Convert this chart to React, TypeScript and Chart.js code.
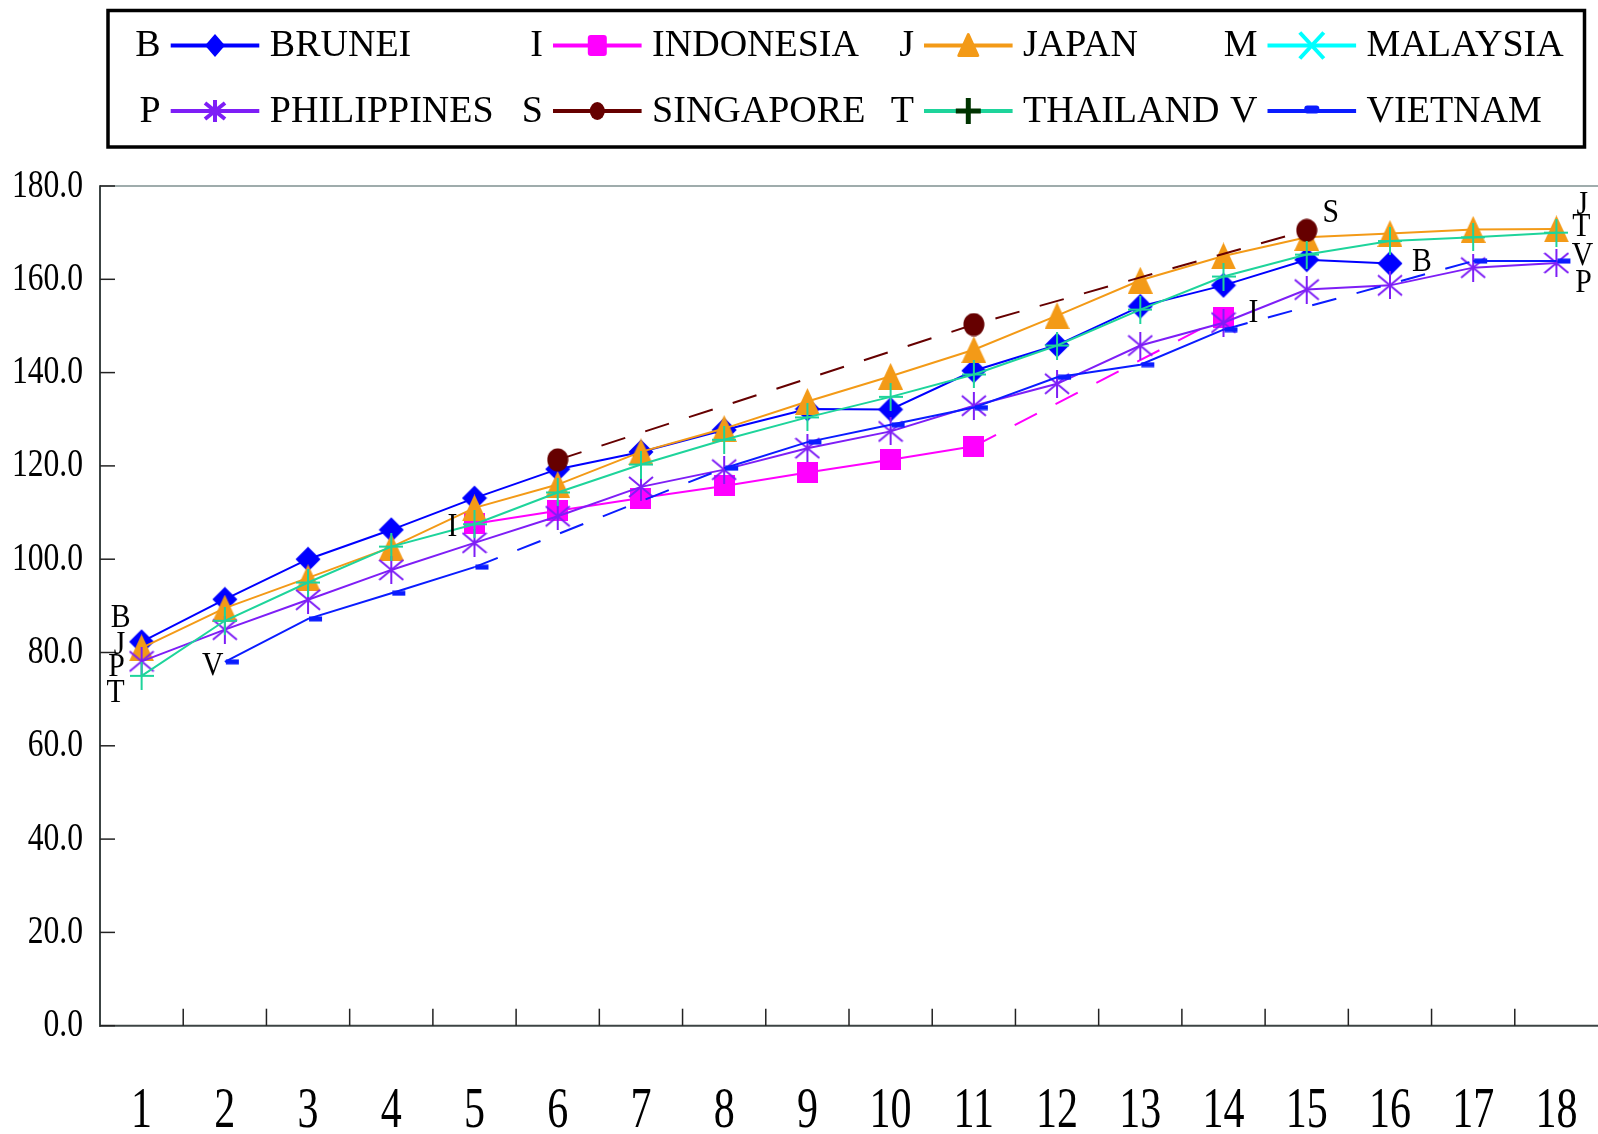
import React, { useEffect, useRef } from "react";
import { Chart, registerables } from "chart.js";

Chart.register(...registerables);

// ---------------- data ----------------
const categories = ["1", "2", "3", "4", "5", "6", "7", "8", "9", "10", "11", "12", "13", "14", "15", "16", "17", "18"];
const yTickValues = [0, 20, 40, 60, 80, 100, 120, 140, 160, 180];

const brunei = [82.3, 91.4, 100.0, 106.3, 113.1, 119.3, 123.0, 127.7, 132.2, 132.1, 140.4, 145.9, 154.2, 158.7, 164.2, 163.4, null, null];
const indonesia = [null, null, null, null, 107.6, 110.4, 113.1, 115.7, 118.6, 121.3, 124.2, null, null, 151.9, null, null, null, null];
const japan = [81.0, 89.5, 96.0, 102.6, 111.0, 116.0, 123.0, 128.0, 133.8, 139.2, 144.9, 152.2, 159.8, 165.0, 169.0, 169.8, 170.7, 170.8];
const malaysia = [null, null, null, null, null, null, null, null, null, null, null, null, null, null, null, null, null, null];
const philippines = [78.1, 84.9, 91.3, 97.7, 103.5, 109.2, 115.5, 119.2, 123.8, 127.4, 132.9, 137.6, 145.8, 150.7, 157.8, 158.7, 162.5, 163.5];
const singapore = [null, null, null, null, null, 121.3, null, null, null, null, 150.3, null, null, null, 170.5, null, null, null];
const thailand = [75.0, 86.8, 95.0, 102.7, 107.5, 114.3, 120.3, 125.6, 130.4, 134.8, 139.6, 145.8, 153.5, 160.6, 165.3, 168.2, 169.0, 170.0];
const vietnam = [null, 78.0, 87.2, 92.7, 98.3, null, null, 119.5, 125.1, 128.8, 132.5, 139.0, 141.7, 149.2, null, null, 163.9, 163.9];

const seriesNames = ["BRUNEI", "INDONESIA", "JAPAN", "MALAYSIA", "PHILIPPINES", "SINGAPORE", "THAILAND", "VIETNAM"];
const seriesLetters = ["B", "I", "J", "M", "P", "S", "T", "V"];
const seriesValues = [brunei, indonesia, japan, malaysia, philippines, singapore, thailand, vietnam];
const lineColors = ["#0000ff", "#ff00ff", "#f39a17", "#00ffff", "#7e1ef6", "#660000", "#1ed49b", "#0a1cff"];
const markerKinds = ["diamond", "square", "triangle", "x", "star", "circle", "plus", "dash"];

// letter labels next to series ends: [datasetIndex, pointIndex, dx, dy]
const endLabels: [number, number, number, number][] = [
  [0, 0, -21, -23],
  [2, 0, -22, -3],
  [4, 0, -25, 6],
  [6, 0, -26, 18],
  [7, 1, -12, 4],
  [1, 4, -22, 4],
  [5, 14, 24, -17],
  [0, 15, 32, -1],
  [1, 13, 30, -4],
  [2, 17, 26, -24],
  [6, 17, 25, -5],
  [7, 17, 26, -5],
  [4, 17, 27, 20],
];

const FONT = '"Liberation Serif", "Times New Roman", serif';
const DASH = [25, 21];
const TARGET_AREA = { left: 100, top: 186, right: 1598, bottom: 1025.7 };

function makeMarker(w: number, h: number, draw: (g: CanvasRenderingContext2D) => void) {
  const c = document.createElement("canvas");
  c.width = w;
  c.height = h;
  const g = c.getContext("2d")!;
  draw(g);
  return c;
}

function plotMarker(kind: string, color: string) {
  switch (kind) {
    case "diamond":
      return makeMarker(26, 26, (g) => {
        g.fillStyle = color;
        g.beginPath();
        g.moveTo(13, 0.5); g.lineTo(25.5, 13); g.lineTo(13, 25.5); g.lineTo(0.5, 13);
        g.closePath(); g.fill();
      });
    case "square":
      return makeMarker(21, 21, (g) => { g.fillStyle = color; g.fillRect(0, 0, 21, 21); });
    case "triangle":
      return makeMarker(25, 27, (g) => {
        g.fillStyle = color;
        g.beginPath();
        g.moveTo(12.5, 0); g.lineTo(25, 27); g.lineTo(0, 27);
        g.closePath(); g.fill();
      });
    case "star":
      return makeMarker(26, 28, (g) => {
        g.strokeStyle = color; g.lineWidth = 2;
        g.beginPath();
        g.moveTo(13, 0); g.lineTo(13, 28);
        g.moveTo(1, 4); g.lineTo(25, 24);
        g.moveTo(1, 24); g.lineTo(25, 4);
        g.stroke();
      });
    case "plus":
      return makeMarker(24, 28, (g) => {
        g.strokeStyle = color; g.lineWidth = 2;
        g.beginPath();
        g.moveTo(0, 14); g.lineTo(24, 14);
        g.moveTo(12, 0); g.lineTo(12, 28);
        g.stroke();
      });
    case "circle":
      return makeMarker(22, 24, (g) => {
        g.fillStyle = color;
        g.beginPath(); g.ellipse(11, 12, 10.5, 11.5, 0, 0, Math.PI * 2); g.fill();
      });
    case "dash":
      return makeMarker(30, 6, (g) => { g.fillStyle = color; g.fillRect(16, 0.5, 13, 5); });
    default:
      return makeMarker(24, 24, (g) => {
        g.strokeStyle = color; g.lineWidth = 2;
        g.beginPath();
        g.moveTo(1, 1); g.lineTo(23, 23); g.moveTo(1, 23); g.lineTo(23, 1);
        g.stroke();
      });
  }
}

function sText(ctx: CanvasRenderingContext2D, text: string, x: number, y: number, size: number, sx: number, align: CanvasTextAlign, baseline: CanvasTextBaseline) {
  ctx.save();
  ctx.translate(x, y);
  ctx.scale(sx, 1);
  ctx.font = `${size}px ${FONT}`;
  ctx.textAlign = align;
  ctx.textBaseline = baseline;
  ctx.fillStyle = "#000";
  ctx.fillText(text, 0, 0);
  ctx.restore();
}

function seg(ctx: CanvasRenderingContext2D, x1: number, y1: number, x2: number, y2: number) {
  ctx.beginPath();
  ctx.moveTo(x1, y1);
  ctx.lineTo(x2, y2);
  ctx.stroke();
}

function legendMarker(ctx: CanvasRenderingContext2D, kind: string, cx: number, cy: number) {
  ctx.save();
  ctx.lineCap = "butt";
  switch (kind) {
    case "diamond":
      ctx.fillStyle = "#0000ff";
      ctx.beginPath();
      ctx.moveTo(cx, cy - 11.5); ctx.lineTo(cx + 10, cy); ctx.lineTo(cx, cy + 11.5); ctx.lineTo(cx - 10, cy);
      ctx.closePath(); ctx.fill();
      break;
    case "square":
      ctx.fillStyle = "#ff00ff";
      ctx.beginPath(); ctx.roundRect(cx - 9.5, cy - 10.5, 19, 21, 3); ctx.fill();
      break;
    case "triangle":
      ctx.fillStyle = "#f39a17"; ctx.strokeStyle = "#f39a17"; ctx.lineWidth = 3; ctx.lineJoin = "round";
      ctx.beginPath();
      ctx.moveTo(cx, cy - 11); ctx.lineTo(cx + 9.5, cy + 10); ctx.lineTo(cx - 9.5, cy + 10);
      ctx.closePath(); ctx.fill(); ctx.stroke();
      break;
    case "x":
      ctx.strokeStyle = "#00ffff"; ctx.lineWidth = 4;
      seg(ctx, cx - 12, cy - 13, cx + 12, cy + 13);
      seg(ctx, cx - 12, cy + 13, cx + 12, cy - 13);
      break;
    case "star":
      ctx.strokeStyle = "#7e1ef6"; ctx.lineWidth = 4;
      seg(ctx, cx, cy - 11, cx, cy + 11);
      seg(ctx, cx - 10, cy - 8, cx + 10, cy + 8);
      seg(ctx, cx - 10, cy + 8, cx + 10, cy - 8);
      break;
    case "circle":
      ctx.fillStyle = "#660000";
      ctx.beginPath(); ctx.ellipse(cx, cy, 7.5, 9, 0, 0, Math.PI * 2); ctx.fill();
      break;
    case "plus":
      ctx.strokeStyle = "#003300"; ctx.lineWidth = 5;
      seg(ctx, cx - 12.5, cy, cx + 12.5, cy);
      seg(ctx, cx, cy - 13, cx, cy + 13);
      break;
    case "dash":
      ctx.fillStyle = "#0a1cff";
      ctx.beginPath(); ctx.roundRect(cx - 7.5, cy - 5.5, 15, 8, 3); ctx.fill();
      break;
  }
  ctx.restore();
}

const decorPlugin = {
  id: "decor",
  beforeDatasetsDraw(chart: any) {
    const { ctx, chartArea: a, scales } = chart;
    const x = scales.x;
    const y = scales.y;
    ctx.save();
    ctx.strokeStyle = "#7f9090";
    ctx.lineWidth = 1.5;
    seg(ctx, a.left, a.top, a.right, a.top);
    ctx.strokeStyle = "#3c4444";
    ctx.lineWidth = 2;
    seg(ctx, a.left, a.top - 0.75, a.left, a.bottom + 1);
    seg(ctx, a.left - 1, a.bottom, a.right, a.bottom);
    ctx.lineWidth = 1.5;
    ctx.strokeStyle = "#222";
    for (const v of yTickValues) {
      const py = y.getPixelForValue(v);
      seg(ctx, a.left, py, a.left + 15, py);
    }
    for (let k = 1; k < categories.length; k++) {
      const px = x.getPixelForValue(k - 0.5);
      seg(ctx, px, a.bottom, px, a.bottom - 17);
    }
    ctx.restore();
  },
  afterDraw(chart: any) {
    const { ctx, chartArea: a, scales } = chart;
    const x = scales.x;
    const y = scales.y;
    // y tick labels
    for (const v of yTickValues) {
      sText(ctx, v.toFixed(1), a.left - 17, y.getPixelForValue(v), 40, 0.79, "right", "middle");
    }
    // x tick labels
    categories.forEach((c, i) => {
      sText(ctx, c, x.getPixelForValue(i), 1127, 56, 0.75, "center", "alphabetic");
    });
    // series letters at ends
    for (const [ds, idx, dx, dy] of endLabels) {
      const pt = chart.getDatasetMeta(ds).data[idx];
      if (!pt) continue;
      sText(ctx, seriesLetters[ds], pt.x + dx, pt.y + dy, 33, 0.9, "center", "middle");
    }
    // legend
    ctx.save();
    ctx.strokeStyle = "#000";
    ctx.lineWidth = 3.5;
    ctx.strokeRect(108, 10.5, 1476.5, 136.5);
    ctx.restore();
    const colStarts = [170.7, 553, 924, 1267.5];
    const rowYs = [45.5, 111];
    const lineLen = 88.6;
    for (let i = 0; i < seriesNames.length; i++) {
      const col = i % 4;
      const row = Math.floor(i / 4);
      const ls = colStarts[col];
      const cy = rowYs[row];
      sText(ctx, seriesLetters[i], ls - 10, cy + 1, 38, 1, "right", "middle");
      ctx.save();
      ctx.strokeStyle = lineColors[i];
      ctx.lineWidth = 4;
      seg(ctx, ls, cy, ls + lineLen, cy);
      ctx.restore();
      legendMarker(ctx, markerKinds[i], ls + lineLen / 2, cy);
      sText(ctx, seriesNames[i], ls + lineLen + 10.5, cy + 1, 38, 1, "left", "middle");
    }
  },
};

export default function App() {
  const ref = useRef<HTMLCanvasElement | null>(null);
  useEffect(() => {
    const canvas = ref.current;
    if (!canvas) return;
    const n = seriesNames.length;
    const datasets = seriesValues.map((vals, i) => ({
      label: seriesNames[i],
      data: vals,
      borderColor: lineColors[i],
      backgroundColor: lineColors[i],
      borderWidth: 2,
      pointStyle: plotMarker(markerKinds[i], lineColors[i]) as any,
      pointRadius: 10,
      pointHoverRadius: 10,
      spanGaps: true,
      tension: 0,
      clip: false as any,
      order: n - i,
      segment: {
        borderDash: (c: any) => (c.p0.skip || c.p1.skip ? DASH : undefined),
      },
    }));
    const padding = {
      left: TARGET_AREA.left,
      top: TARGET_AREA.top,
      right: 1598 - TARGET_AREA.right,
      bottom: 1134 - TARGET_AREA.bottom,
    };
    const chart = new Chart(canvas, {
      type: "line",
      data: { labels: categories, datasets },
      options: {
        responsive: false,
        animation: false,
        devicePixelRatio: 1,
        layout: { padding, autoPadding: false },
        plugins: {
          legend: { display: false },
          tooltip: { enabled: false },
          title: { display: false },
        },
        scales: {
          x: {
            type: "category",
            display: false,
            offset: true,
          },
          y: {
            display: false,
            min: 0,
            max: 180,
            ticks: { stepSize: 20 },
          },
        },
      },
      plugins: [decorPlugin],
    } as any);
    // correct any residual layout offsets so the plot area sits where the reference's does
    const ca = chart.chartArea;
    const dl = TARGET_AREA.left - ca.left;
    const dt = TARGET_AREA.top - ca.top;
    const dr = ca.right - TARGET_AREA.right;
    const db = ca.bottom - TARGET_AREA.bottom;
    if (Math.abs(dl) + Math.abs(dt) + Math.abs(dr) + Math.abs(db) > 0.5) {
      (chart.options as any).layout.padding = {
        left: padding.left + dl,
        top: padding.top + dt,
        right: padding.right + dr,
        bottom: padding.bottom + db,
      };
      chart.update();
    }
    return () => chart.destroy();
  }, []);
  return (
    <div style={{ position: "fixed", left: 0, top: 0, width: 1598, height: 1134, background: "#fff" }}>
      <canvas ref={ref} width={1598} height={1134} style={{ display: "block" }} />
    </div>
  );
}
